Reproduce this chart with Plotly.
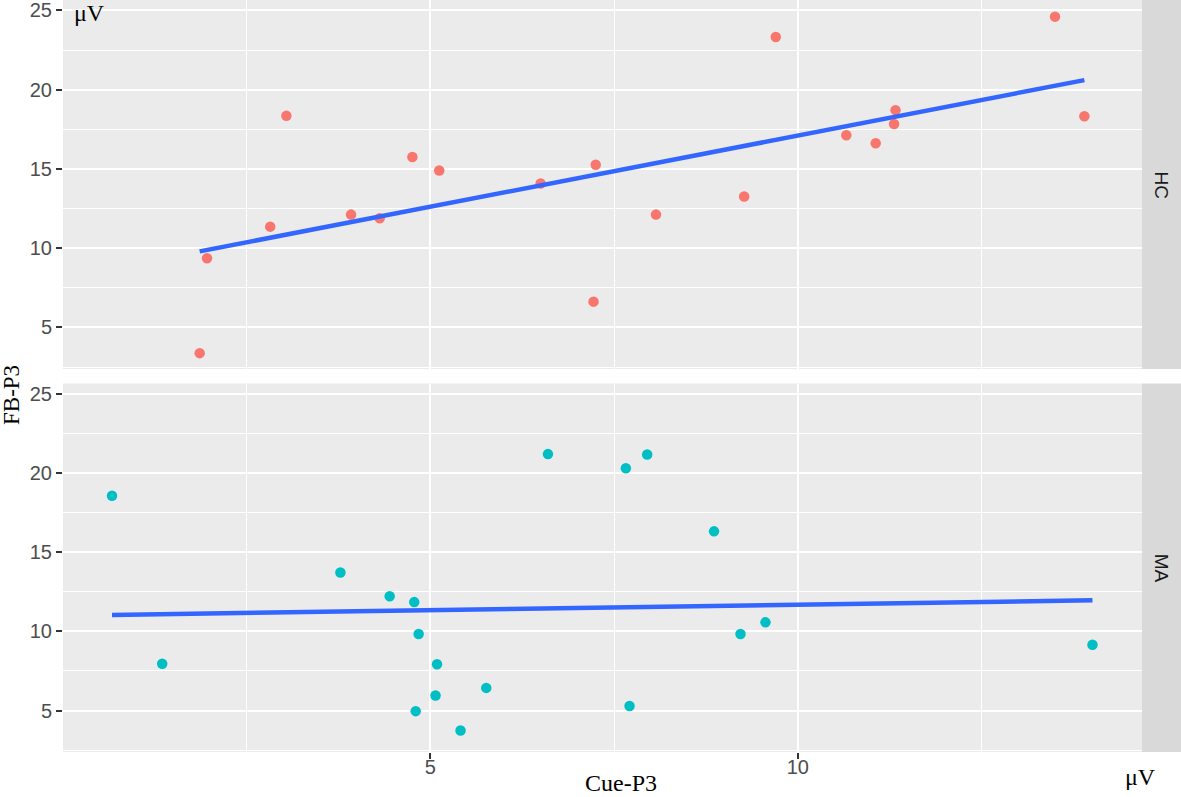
import numpy as np
import plotly.graph_objects as go

# ---- data ----
hc_x = [1.96, 1.86, 2.82, 3.04, 3.92, 4.31, 4.755, 5.12, 6.50, 7.25,
        7.22, 8.07, 9.27, 9.70, 10.66, 11.06, 11.31, 11.33, 13.50, 13.90]
hc_y = [9.37, 3.38, 11.36, 18.35, 12.12, 11.89, 15.76, 14.90, 14.08, 15.27,
        6.63, 12.12, 13.26, 23.33, 17.13, 16.62, 17.84, 18.71, 24.61, 18.33]

ma_x = [3.775, 4.446, 4.78, 4.84, 5.09, 5.07, 4.80, 5.41, 5.76, 6.60,
        7.66, 7.95, 7.71, 8.86, 9.22, 9.56, 0.667, 1.35, 14.01]
ma_y = [13.72, 12.22, 11.85, 9.83, 7.92, 5.95, 4.96, 3.74, 6.43, 21.20,
        20.31, 21.17, 5.29, 16.32, 9.83, 10.57, 18.57, 7.96, 9.16]

groups = ["HC", "MA"]
x_ticks = [5, 10]
x_minor = [2.5, 7.5, 12.5]
y_ticks = [5, 10, 15, 20, 25]
y_minor = [2.5, 7.5, 12.5, 17.5, 22.5]

x_title = "Cue-P3"
y_title = "FB-P3"
unit = "μV"

# ---- styling ----
HC_COL = "#F8766D"
MA_COL = "#00BFC4"
LINE_COL = "#3366FF"
PANEL_BG = "#EBEBEB"
STRIP_BG = "#D9D9D9"
SANS = "Liberation Sans, Arial, sans-serif"
SERIF = "Liberation Serif, Times New Roman, serif"

W, H = 1181, 797
ML, MR, MT, MB = 63, 0, 0, 45
PW, PH = W - ML - MR, H - MT - MB

def px_x(p):
    return (p - ML) / PW

def px_y(p):
    return (PH - (p - MT)) / PH

x_dom = [0, px_x(1141.7)]
top_dom = [px_y(369), 1.0]
bot_dom = [0.0, px_y(383.5)]

fig = go.Figure()

def fit_line(xs, ys):
    xs = np.asarray(xs, float)
    ys = np.asarray(ys, float)
    b, a = np.polyfit(xs, ys, 1)
    xl = np.array([xs.min(), xs.max()])
    return xl, a + b * xl

for xs, ys, col, xa, ya in [(hc_x, hc_y, HC_COL, "x", "y"),
                             (ma_x, ma_y, MA_COL, "x2", "y2")]:
    fig.add_trace(go.Scatter(x=xs, y=ys, mode="markers", xaxis=xa, yaxis=ya,
                             marker=dict(color=col, size=10.5, line=dict(width=0)),
                             showlegend=False, hoverinfo="skip"))
    lx, ly = fit_line(xs, ys)
    fig.add_trace(go.Scatter(x=lx, y=ly, mode="lines", xaxis=xa, yaxis=ya,
                             line=dict(color=LINE_COL, width=4.5),
                             showlegend=False, hoverinfo="skip"))

x_range = [0.0, 14.68]
y_range = [2.38, 25.66]

common_x = dict(range=x_range, domain=x_dom, tickmode="array", tickvals=x_ticks,
                showgrid=True, gridcolor="white", gridwidth=2.4, zeroline=False,
                showline=False,
                minor=dict(tickmode="array", tickvals=x_minor, showgrid=True,
                           gridcolor="white", gridwidth=1.3, ticks=""),
                tickfont=dict(family=SANS, size=20, color="#4D4D4D"))
common_y = dict(range=y_range, tickmode="array", tickvals=y_ticks,
                showgrid=True, gridcolor="white", gridwidth=2.4, zeroline=False,
                showline=False, ticks="outside", ticklen=6, tickwidth=1.5,
                tickcolor="#333333", ticklabeloverflow="allow",
                minor=dict(tickmode="array", tickvals=y_minor, showgrid=True,
                           gridcolor="white", gridwidth=1.3, ticks=""),
                tickfont=dict(family=SANS, size=20, color="#4D4D4D"))

fig.update_layout(
    width=W, height=H,
    margin=dict(l=ML, r=MR, t=MT, b=MB, pad=0, autoexpand=False),
    paper_bgcolor="white", plot_bgcolor=PANEL_BG,
    xaxis=dict(**common_x, anchor="y", showticklabels=False, ticks=""),
    xaxis2=dict(**common_x, anchor="y2", matches="x", ticks="outside",
                ticklen=6, tickwidth=1.5, tickcolor="#333333",
                ticklabelstandoff=-9),
    yaxis=dict(**common_y, domain=top_dom, anchor="x"),
    yaxis2=dict(**common_y, domain=bot_dom, anchor="x2"),
)

shapes = []
annotations = []
for g, dom in zip(groups, [top_dom, bot_dom]):
    shapes.append(dict(type="rect", xref="paper", yref="paper",
                       x0=x_dom[1], x1=1.0, y0=dom[0], y1=dom[1],
                       fillcolor=STRIP_BG, line=dict(width=0), layer="below"))
    annotations.append(dict(text=g, xref="paper", yref="paper",
                            x=px_x(1161), y=(dom[0] + dom[1]) / 2,
                            showarrow=False, textangle=90,
                            font=dict(family=SANS, size=19, color="#1A1A1A"),
                            xanchor="center", yanchor="middle"))

annotations += [
    dict(text=y_title, xref="paper", yref="paper", x=px_x(11), y=px_y(395),
         showarrow=False, textangle=-90, xanchor="center", yanchor="middle",
         font=dict(family=SERIF, size=23, color="black")),
    dict(text=x_title, xref="paper", yref="paper", x=px_x(621), y=px_y(783),
         showarrow=False, xanchor="center", yanchor="middle",
         font=dict(family=SERIF, size=24, color="black")),
    dict(text=unit, xref="paper", yref="paper", x=px_x(72), y=px_y(13),
         showarrow=False, xanchor="left", yanchor="middle",
         font=dict(family=SERIF, size=24, color="black")),
    dict(text=unit, xref="paper", yref="paper", x=px_x(1140), y=px_y(777),
         showarrow=False, xanchor="center", yanchor="middle",
         font=dict(family=SERIF, size=24, color="black")),
]
fig.update_layout(shapes=shapes, annotations=annotations)

fig.write_html("out.html", config={"displayModeBar": False},
               post_script="document.body.style.margin='0';"
                           "document.body.style.overflow='hidden';")
